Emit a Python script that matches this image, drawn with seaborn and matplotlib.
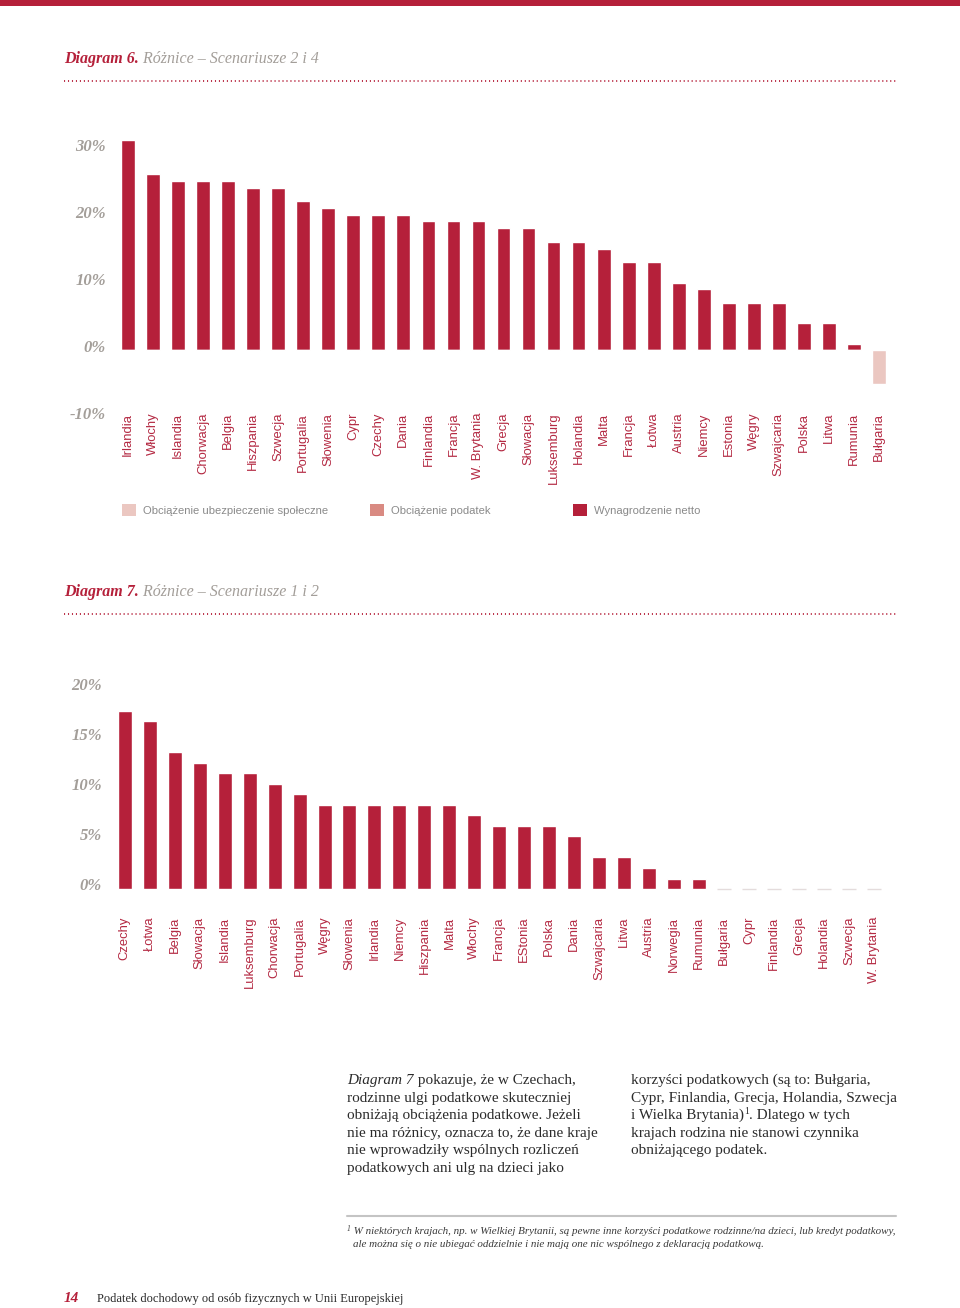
import numpy as np
import matplotlib
matplotlib.use("Agg")
import matplotlib.pyplot as plt
import matplotlib.transforms as mtransforms
from matplotlib.patches import Patch
import seaborn as sns

# Diagram 6 - Różnice, scenariusze 2 i 4
kraje6 = ["Irlandia", "Włochy", "Islandia", "Chorwacja", "Belgia", "Hiszpania", "Szwecja",
          "Portugalia", "Słowenia", "Cypr", "Czechy", "Dania", "Finlandia", "Francja",
          "W. Brytania", "Grecja", "Słowacja", "Luksemburg", "Holandia", "Malta", "Francja",
          "Łotwa", "Austria", "Niemcy", "Estonia", "Węgry", "Szwajcaria", "Polska", "Litwa",
          "Rumunia", "Bułgaria"]
netto6 = [31.3, 26.3, 25.2, 25.2, 25.2, 24.2, 24.2, 22.2, 21.2, 20.2, 20.2, 20.2, 19.2,
          19.2, 19.2, 18.2, 18.2, 16.1, 16.1, 15.1, 13.1, 13.1, 10.0, 9.1, 7.0, 7.0, 7.0,
          4.0, 4.0, 0.9, 0]
ubezp6 = [0] * 30 + [-5.1]
ticks6 = [-10, 0, 10, 20, 30]

# Diagram 7 - Różnice, scenariusze 1 i 2
kraje7 = ["Czechy", "Łotwa", "Belgia", "Słowacja", "Islandia", "Luksemburg", "Chorwacja",
          "Portugalia", "Węgry", "Słowenia", "Irlandia", "Niemcy", "Hiszpania", "Malta",
          "Włochy", "Francja", "EStonia", "Polska", "Dania", "Szwajcaria", "Litwa", "Austria",
          "Norwegia", "Rumunia", "Bułgaria", "Cypr", "Finlandia", "Grecja", "Holandia",
          "Szwecja", "W. Brytania"]
netto7 = [17.8, 16.8, 13.7, 12.6, 11.6, 11.6, 10.5, 9.5, 8.4, 8.4, 8.4, 8.4, 8.4, 8.4,
          7.4, 6.3, 6.3, 6.3, 5.3, 3.2, 3.2, 2.1, 1.0, 1.0, 0, 0, 0, 0, 0, 0, 0]
ticks7 = [0, 5, 10, 15, 20]

legenda = ["Obciążenie ubezpieczenie społeczne", "Obciążenie podatek", "Wynagrodzenie netto"]

RED = "#b5203a"
PINK = "#ebc7c1"
SALMON = "#d98a82"
GREY = "#a39e99"
LABEL = "#b42a43"

sns.set_style("white")
plt.rcParams["font.family"] = ["Liberation Sans", "DejaVu Sans"]
SERIF = ["Liberation Serif", "DejaVu Serif"]

W, H = 960, 1308
fig = plt.figure(figsize=(W / 100, H / 100), dpi=100)

# page layer in pixel coordinates
bg = fig.add_axes([0, 0, 1, 1], zorder=-1)
bg.set_xlim(0, W)
bg.set_ylim(H, 0)
bg.axis("off")
renderer = fig.canvas.get_renderer()


def run(x, y, parts):
    # draw pieces of text one after another on a common baseline
    for s, kw in parts:
        dy = kw.pop("dy", 0)
        t = bg.text(x, y + dy, s, va="baseline", ha="left", **kw)
        x += t.get_window_extent(renderer=renderer).width


def box(x0, y0, x1, y1):
    return [x0 / W, 1 - y1 / H, (x1 - x0) / W, (y1 - y0) / H]


bg.axhspan(0, 6, color=RED, lw=0)

for y, num, rest in [(63, "Diagram 6.", " Różnice – Scenariusze 2 i 4"),
                     (596, "Diagram 7.", " Różnice – Scenariusze 1 i 2")]:
    run(64, y, [(num, dict(family=SERIF, weight="bold", style="italic", size=11.5, color=RED)),
                (rest, dict(family=SERIF, style="italic", size=11.5, color=GREY))])
    bg.plot([64, 896], [y + 18, y + 18], color=RED, lw=1.3, ls=(0, (0.6, 1.6)))


def style_axes(ax, ticks, labels, ypad, yoff, xpad):
    ax.set_xlim(-0.5, len(labels) - 0.5)
    ax.set_yticks(ticks)
    ax.set_yticklabels([f"{t}%" for t in ticks], family=SERIF, weight="bold",
                       style="italic", size=12, color=GREY)
    ax.set_xticks(range(len(labels)))
    ax.set_xticklabels(labels, rotation=90, size=9.4, color=LABEL, va="top", ha="center")
    ax.tick_params(length=0)
    ax.tick_params(axis="y", pad=ypad)
    ax.tick_params(axis="x", pad=xpad)
    off = mtransforms.ScaledTranslation(0, yoff / 100, fig.dpi_scale_trans)
    for lab in ax.get_yticklabels():
        lab.set_transform(lab.get_transform() + off)
    ax.set_xlabel("")
    ax.set_ylabel("")
    sns.despine(ax=ax, left=True, bottom=True)
    ax.set_facecolor("none")


pos = list(range(len(kraje6)))

# Diagram 6
ax1 = fig.add_axes(box(115.5, 135.6, 891.5, 417))
sns.barplot(x=pos, y=netto6, color=RED, width=0.55, saturation=1, orient="x", ax=ax1)
sns.barplot(x=pos, y=ubezp6, color=PINK, width=0.55, saturation=1, orient="x", ax=ax1)
ax1.set_ylim(-10, 32)
style_axes(ax1, ticks6, kraje6, ypad=6.8, yoff=4, xpad=-3)

# legend of diagram 6
for x, lab, col in zip([122, 370, 573], legenda, [PINK, SALMON, RED]):
    fig.legend(handles=[Patch(facecolor=col, edgecolor="none", label=lab)],
               loc="center left", bbox_to_anchor=(x / W, 1 - 510 / H),
               frameon=False, fontsize=8.1, labelcolor="#8a8a8a",
               handlelength=1.2, handleheight=1.2, handletextpad=0.7,
               borderpad=0, borderaxespad=0)

# Diagram 7
ax2 = fig.add_axes(box(112.2, 683.7, 886.5, 913.7))
sns.barplot(x=pos, y=netto7, color=RED, width=0.56, saturation=1, orient="x", ax=ax2)
for p in ax2.patches:
    if p.get_height() == 0:
        p.set_edgecolor("#e4dcdc")
        p.set_linewidth(1)
ax2.set_ylim(-2.5, 20.5)
style_axes(ax2, ticks7, kraje7, ypad=7.5, yoff=5, xpad=2.2)

# text body
body = dict(family=SERIF, size=11, color="#2b2b2b")
ital = dict(body, style="italic")
y0, step = 1084, 17.6
run(347, y0, [("Diagram 7", dict(ital)), (" pokazuje, że w Czechach,", dict(body))])
left = ["rodzinne ulgi podatkowe skuteczniej",
        "obniżają obciążenia podatkowe. Jeżeli",
        "nie ma różnicy, oznacza to, że dane kraje",
        "nie wprowadziły wspólnych rozliczeń",
        "podatkowych ani ulg na dzieci jako"]
for i, line in enumerate(left, start=1):
    run(347, y0 + i * step, [(line, dict(body))])

run(631, y0, [("korzyści podatkowych (są to: Bułgaria,", dict(body))])
run(631, y0 + step, [("Cypr, Finlandia, Grecja, Holandia, Szwecja", dict(body))])
run(631, y0 + 2 * step, [("i Wielka Brytania)", dict(body)),
                         ("1", dict(body, size=7, dy=-5)),
                         (". Dlatego w tych", dict(body))])
run(631, y0 + 3 * step, [("krajach rodzina nie stanowi czynnika", dict(body))])
run(631, y0 + 4 * step, [("obniżającego podatek.", dict(body))])

# footnote
bg.plot([347, 896], [1216, 1216], color="#c4c4c4", lw=1.5)
foot = dict(family=SERIF, style="italic", size=7.9, color="#3a3a3a")
run(347, 1234, [("1", dict(foot, size=5.5, dy=-3)),
                (" W niektórych krajach, np. w Wielkiej Brytanii, są pewne inne korzyści podatkowe "
                 "rodzinne/na dzieci, lub kredyt podatkowy,", dict(foot))])
run(353, 1247, [("ale można się o nie ubiegać oddzielnie i nie mają one nic wspólnego z deklaracją "
                 "podatkową.", dict(foot))])

# page footer
run(64, 1302, [("14", dict(family=SERIF, weight="bold", style="italic", size=11, color=RED))])
run(97, 1302, [("Podatek dochodowy od osób fizycznych w Unii Europejskiej",
                dict(family=SERIF, size=9, color="#2b2b2b"))])

fig.savefig("out.png", dpi=100)
